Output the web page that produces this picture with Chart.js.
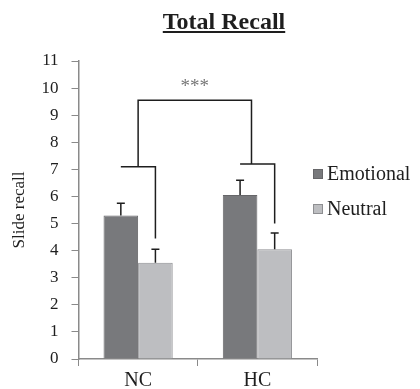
<!DOCTYPE html>
<html>
<head>
<meta charset="utf-8">
<script src="https://cdn.jsdelivr.net/npm/chart.js@4"></script>
<style>
  body { margin: 0; background: #fff; }
  #wrap { width: 420px; height: 389px; }
</style>
</head>
<body>
<div id="wrap"><canvas id="recall-chart" width="420" height="389"></canvas></div>
<script>
// values
const categories = ['NC', 'HC'];
const emotional = [5.3, 6.05];
const neutral = [3.55, 4.05];
const emotionalErr = [0.45, 0.55];
const neutralErr = [0.5, 0.6];
// significance brackets (in y units)
const pairLevel = [7.1, 7.2];
const pairDrop = [4.45, 5.0];
const joinFrac = [0.5, 0.33];
const topLevel = 9.55;
const starsLevel = 9.85;

const chartTitle = 'Total Recall';
const serif = "'Liberation Serif', 'Times New Roman', serif";

const overlay = {
  id: 'overlay',
  afterDatasetsDraw(chart) {
    const ctx = chart.ctx;
    const y = chart.scales.y;
    const emoBars = chart.getDatasetMeta(0).data;
    const neuBars = chart.getDatasetMeta(1).data;
    ctx.save();
    ctx.strokeStyle = '#1e1e1e';
    ctx.lineWidth = 1.5;

    // error bars (upper only)
    [[emoBars, emotional, emotionalErr], [neuBars, neutral, neutralErr]].forEach(([bars, vals, errs]) => {
      bars.forEach((b, i) => {
        const top = y.getPixelForValue(vals[i] + errs[i]);
        ctx.beginPath();
        ctx.moveTo(b.x, b.y);
        ctx.lineTo(b.x, top);
        ctx.moveTo(b.x - 4, top);
        ctx.lineTo(b.x + 4, top);
        ctx.stroke();
      });
    });

    // brackets
    const joins = [];
    categories.forEach((c, i) => {
      const x0 = emoBars[i].x, x1 = neuBars[i].x;
      const yl = y.getPixelForValue(pairLevel[i]);
      ctx.beginPath();
      ctx.moveTo(x0, yl);
      ctx.lineTo(x1, yl);
      ctx.lineTo(x1, y.getPixelForValue(pairDrop[i]));
      ctx.stroke();
      joins.push([x0 + (x1 - x0) * joinFrac[i], yl]);
    });
    const yt = y.getPixelForValue(topLevel);
    ctx.beginPath();
    ctx.moveTo(joins[0][0], joins[0][1]);
    ctx.lineTo(joins[0][0], yt);
    ctx.lineTo(joins[1][0], yt);
    ctx.lineTo(joins[1][0], joins[1][1]);
    ctx.stroke();

    ctx.fillStyle = '#777';
    ctx.font = '19px ' + serif;
    ctx.textAlign = 'center';
    ctx.textBaseline = 'alphabetic';
    ctx.fillText('***', (joins[0][0] + joins[1][0]) / 2, y.getPixelForValue(starsLevel));
    ctx.restore();
  },
  afterDraw(chart) {
    const ctx = chart.ctx;
    const area = chart.chartArea;
    ctx.save();

    // underlined title
    ctx.font = 'bold 24px ' + serif;
    ctx.fillStyle = '#1e1e1e';
    ctx.textAlign = 'center';
    ctx.textBaseline = 'alphabetic';
    const tx = chart.width / 2 + 14;
    ctx.fillText(chartTitle, tx, 29);
    const w = ctx.measureText(chartTitle).width;
    ctx.fillRect(tx - w / 2, 31, w, 2);

    // legend to the right of the plot
    ctx.font = '20px ' + serif;
    ctx.textAlign = 'left';
    ctx.textBaseline = 'middle';
    chart.data.datasets.forEach((ds, i) => {
      const ly = area.top + 113 + i * 35;
      const lx = area.right - 4;
      ctx.fillStyle = ds.backgroundColor;
      ctx.fillRect(lx, ly - 5, 10, 10);
      ctx.strokeStyle = ds.borderColor;
      ctx.lineWidth = 1;
      ctx.strokeRect(lx + 0.5, ly - 4.5, 9, 9);
      ctx.fillStyle = '#1e1e1e';
      ctx.fillText(ds.label, lx + 14, ly + 1);
    });
    ctx.restore();
  }
};

const ctx = document.getElementById('recall-chart').getContext('2d');
new Chart(ctx, {
  type: 'bar',
  data: {
    labels: categories,
    datasets: [{
      label: 'Emotional',
      data: emotional,
      backgroundColor: '#78797c',
      borderColor: '#666669',
      borderWidth: 1
    }, {
      label: 'Neutral',
      data: neutral,
      backgroundColor: '#bdbec1',
      borderColor: '#8e8f92',
      borderWidth: 1
    }]
  },
  options: {
    responsive: false,
    animation: false,
    layout: { padding: { left: 0, right: 103, top: 61, bottom: -6 } },
    datasets: { bar: { categoryPercentage: 0.58, barPercentage: 1.0 } },
    plugins: {
      title: { display: false },
      legend: { display: false },
      tooltip: { enabled: false }
    },
    scales: {
      x: {
        grid: { offset: true, drawOnChartArea: false, drawTicks: true, tickLength: 7, color: '#8a8a8a' },
        border: { color: '#8a8a8a', width: 1.5 },
        ticks: { color: '#1e1e1e', font: { family: serif, size: 20, lineHeight: 0.95 }, padding: 5 }
      },
      y: {
        min: 0,
        max: 11,
        ticks: { stepSize: 1, color: '#1e1e1e', font: { family: serif, size: 17 }, padding: 13 },
        grid: { drawOnChartArea: false, drawTicks: true, tickLength: 7, color: '#8a8a8a' },
        border: { color: '#8a8a8a', width: 1.5 },
        title: {
          display: true, text: 'Slide recall', color: '#1e1e1e',
          font: { family: serif, size: 17, lineHeight: 1 },
          padding: { top: 11.5, bottom: 0 }
        }
      }
    }
  },
  plugins: [overlay]
});
</script>
</body>
</html>
